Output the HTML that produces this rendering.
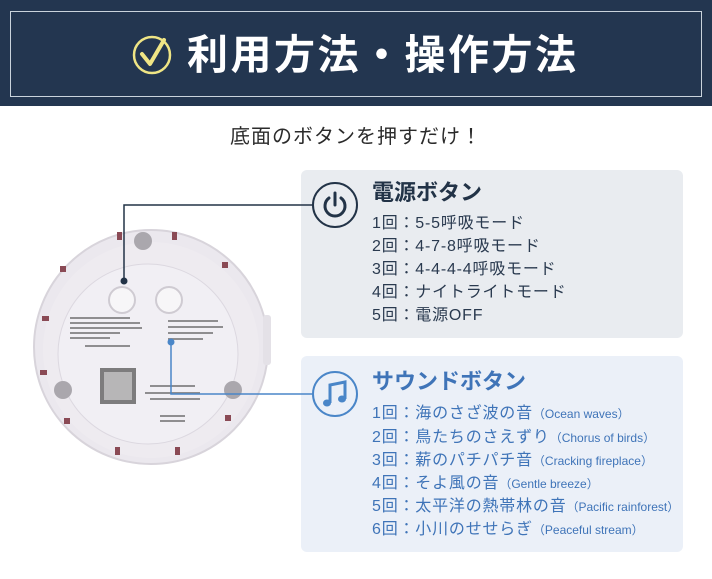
<!DOCTYPE html>
<html><head><meta charset="utf-8"><style>
*{margin:0;padding:0;box-sizing:border-box}
body{width:712px;height:579px;background:#fff;position:relative;overflow:hidden;font-family:"Liberation Sans","Noto Sans CJK JP",sans-serif}
.hdr{position:absolute;left:0;top:0;width:712px;height:106px;background:#233650}
.hb{position:absolute;left:10px;top:11px;width:692px;height:86px;border:1.5px solid #c9d3dc}
.title{position:absolute;left:187px;top:28px;font-size:41px;font-weight:bold;color:#fff;letter-spacing:2.5px;line-height:54px;white-space:nowrap}
.sub{position:absolute;left:0;width:712px;top:122px;text-align:center;font-size:20px;color:#2b2b2b;letter-spacing:1px;line-height:30px}
.t{position:absolute;left:372px;font-weight:bold;font-size:22px;line-height:28px;white-space:nowrap}
.l{position:absolute;left:372px;font-size:16px;line-height:23px;white-space:nowrap;letter-spacing:0.8px}
.l small{font-size:12px;letter-spacing:0}
</style></head><body>
<div class="hdr"><div class="hb"></div></div>
<svg style="position:absolute;left:0;top:0" width="712" height="579">
<circle cx="152" cy="55" r="18" fill="none" stroke="#efe585" stroke-width="2.5"/>
<path d="M142 54 L150 64 L164 40" fill="none" stroke="#efe585" stroke-width="4" stroke-linecap="round" stroke-linejoin="round"/>
<circle cx="151" cy="347" r="117" fill="#ebe8ee" stroke="#d8d4db" stroke-width="2"/>
<circle cx="151" cy="350" r="108" fill="#eeebf0"/>
<circle cx="148" cy="354" r="90" fill="#f1eff4" stroke="#dcd8e0" stroke-width="1"/>
<g fill="#8a4a55">
<rect x="117" y="232" width="5" height="8"/><rect x="172" y="232" width="5" height="8"/>
<rect x="60" y="266" width="6" height="6"/><rect x="222" y="262" width="6" height="6"/>
<rect x="42" y="316" width="7" height="5"/><rect x="40" y="370" width="7" height="5"/>
<rect x="64" y="418" width="6" height="6"/><rect x="225" y="415" width="6" height="6"/>
<rect x="115" y="447" width="5" height="8"/><rect x="175" y="447" width="5" height="8"/>
</g>
<circle cx="143" cy="241" r="9" fill="#aaa7ad"/>
<circle cx="63" cy="390" r="9" fill="#aaa7ad"/>
<circle cx="233" cy="390" r="9" fill="#aaa7ad"/>
<rect x="263" y="315" width="8" height="50" rx="3" fill="#e4e1e7"/>
<circle cx="122" cy="300" r="13" fill="#f7f6f8" stroke="#cfcbd2" stroke-width="2"/>
<circle cx="169" cy="300" r="13" fill="#f7f6f8" stroke="#cfcbd2" stroke-width="2"/>
<g fill="#666" opacity="0.7">
<rect x="70" y="317" width="60" height="2"/><rect x="70" y="322" width="70" height="2"/><rect x="70" y="327" width="72" height="2"/><rect x="70" y="332" width="50" height="2"/><rect x="70" y="337" width="40" height="2"/><rect x="85" y="345" width="45" height="2"/>
<rect x="168" y="320" width="50" height="2"/><rect x="168" y="326" width="55" height="2"/><rect x="168" y="332" width="45" height="2"/><rect x="168" y="338" width="35" height="2"/>
<rect x="150" y="385" width="45" height="2"/><rect x="145" y="392" width="55" height="2"/><rect x="150" y="398" width="50" height="2"/><rect x="160" y="415" width="25" height="2"/><rect x="160" y="420" width="25" height="2"/>
</g>
<rect x="100" y="368" width="36" height="36" fill="#555" opacity="0.75"/>
<rect x="104" y="372" width="28" height="28" fill="#ddd" opacity="0.6"/>
<rect x="301" y="170" width="382" height="168" rx="6" fill="#e9ecf0"/>
<rect x="301" y="356" width="382" height="196" rx="6" fill="#ebf0f8"/>
<polyline points="124,281 124,205 313,205" fill="none" stroke="#223347" stroke-width="1.5"/>
<circle cx="124" cy="281" r="3.5" fill="#223347"/>
<polyline points="171,342 171,394 313,394" fill="none" stroke="#4a86c8" stroke-width="1.5"/>
<circle cx="171" cy="342" r="3.5" fill="#4a86c8"/>
<circle cx="335" cy="205" r="22" fill="#e9ecf0" stroke="#223347" stroke-width="2"/>
<path d="M329 198 A10 10 0 1 0 341 198" fill="none" stroke="#223347" stroke-width="3" stroke-linecap="round"/>
<line x1="335" y1="193" x2="335" y2="205" stroke="#223347" stroke-width="3" stroke-linecap="round"/>
<circle cx="335" cy="394" r="22" fill="#ebf0f8" stroke="#4a86c8" stroke-width="2"/>
<path d="M330 403 V385 L345 382 V399" fill="none" stroke="#4a86c8" stroke-width="3"/>
<ellipse cx="327" cy="403" rx="4" ry="3.5" fill="#4a86c8"/>
<ellipse cx="342" cy="399" rx="4" ry="3.5" fill="#4a86c8"/>
</svg>
<div class="title">利用方法・操作方法</div>
<div class="sub">底面のボタンを押すだけ！</div>
<div class="t" style="top:179px;color:#223347">電源ボタン</div>
<div style="color:#2a3a4f">
<div class="l" style="top:212px">1回：5-5呼吸モード</div>
<div class="l" style="top:235px">2回：4-7-8呼吸モード</div>
<div class="l" style="top:258px">3回：4-4-4-4呼吸モード</div>
<div class="l" style="top:281px">4回：ナイトライトモード</div>
<div class="l" style="top:304px">5回：電源OFF</div>
</div>
<div class="t" style="top:368px;color:#3f74b8">サウンドボタン</div>
<div style="color:#3f74b8">
<div class="l" style="top:402px">1回：海のさざ波の音<small>（Ocean waves）</small></div>
<div class="l" style="top:426px">2回：鳥たちのさえずり<small>（Chorus of birds）</small></div>
<div class="l" style="top:449px">3回：薪のパチパチ音<small>（Cracking fireplace）</small></div>
<div class="l" style="top:472px">4回：そよ風の音<small>（Gentle breeze）</small></div>
<div class="l" style="top:495px">5回：太平洋の熱帯林の音<small>（Pacific rainforest）</small></div>
<div class="l" style="top:518px">6回：小川のせせらぎ<small>（Peaceful stream）</small></div>
</div>
</body></html>
